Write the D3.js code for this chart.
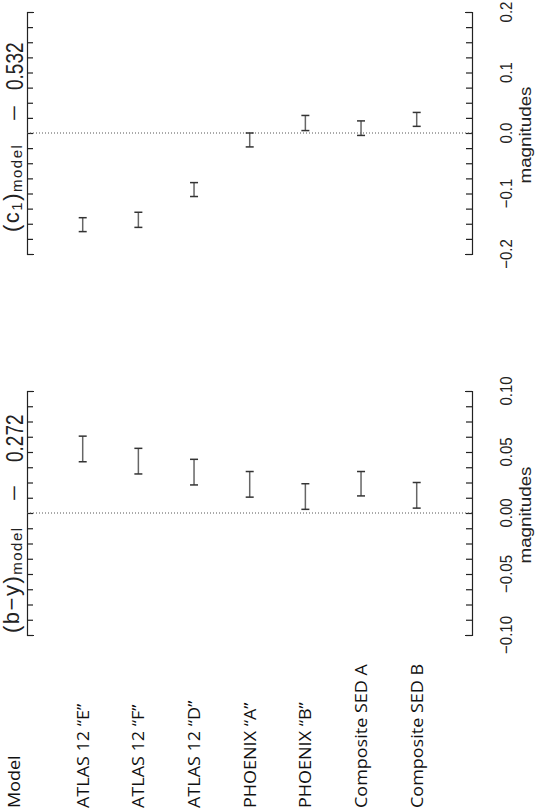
<!DOCTYPE html>
<html>
<head>
<meta charset="utf-8">
<script src="https://cdn.jsdelivr.net/npm/d3@7"></script>
<style>
  body { margin: 0; background: #fff; }
</style>
</head>
<body>
<svg id="chart" width="539" height="812"></svg>
<script>
var models = ['ATLAS 12 \u201CE\u201D', 'ATLAS 12 \u201CF\u201D', 'ATLAS 12 \u201CD\u201D', 'PHOENIX \u201CA\u201D', 'PHOENIX \u201CB\u201D', 'Composite SED A', 'Composite SED B'];
// (c1) - 0.532, lower / upper end of each error bar
var c1Low = [-0.163, -0.156, -0.105, -0.023, 0.004, -0.004, 0.011];
var c1High = [-0.140, -0.131, -0.082, 0.000, 0.029, 0.020, 0.034];
// (b-y) - 0.272
var byLow = [0.042, 0.032, 0.023, 0.013, 0.003, 0.014, 0.004];
var byHigh = [0.063, 0.053, 0.044, 0.034, 0.024, 0.034, 0.025];
var c1Ticks = [-0.2, -0.1, 0.0, 0.1, 0.2];
var c1TickLabels = ['\u22120.2', '\u22120.1', '0.0', '0.1', '0.2'];
var byTicks = [-0.10, -0.05, 0.00, 0.05, 0.10];
var byTickLabels = ['\u22120.10', '\u22120.05', '0.00', '0.05', '0.10'];

var svg = d3.select('#chart');
var axisLeftX = 27, axisRightX = 472;
var idlFont = 'Liberation Sans, Arial, sans-serif';

var x = d3.scalePoint().domain(models).range([82.7, 416.7]);

function drawPanel(top, bottom, domain, minorStep, ticks, tickLabels, lows, highs, title) {
  var y = d3.scaleLinear().domain(domain).range([bottom, top]);
  var minor = d3.range(Math.round((domain[1] - domain[0]) / minorStep) + 1).map(i => domain[0] + i * minorStep);

  svg.append('g')
     .attr('transform', `translate(${axisLeftX},0)`)
     .call(d3.axisRight(y).tickValues(minor).tickSize(6).tickSizeOuter(7).tickFormat(''))
     .call(g => g.selectAll('path,line').attr('stroke', '#222').attr('stroke-width', 1.2));

  svg.append('g')
     .attr('transform', `translate(${axisRightX},0)`)
     .call(d3.axisLeft(y).tickValues(minor).tickSize(6).tickSizeOuter(7).tickFormat(''))
     .call(g => g.selectAll('path,line').attr('stroke', '#222').attr('stroke-width', 1.2));

  // zero line
  svg.append('line')
     .attr('x1', axisLeftX).attr('x2', axisRightX)
     .attr('y1', y(0)).attr('y2', y(0))
     .attr('stroke', '#555').attr('stroke-width', 1)
     .attr('stroke-dasharray', '1,2');

  // tick labels on the right
  ticks.forEach(function(t, i) {
    svg.append('text')
       .attr('transform', `translate(506,${y(t)}) rotate(-90) scale(1,1.15)`)
       .attr('text-anchor', 'middle')
       .attr('dy', '0.36em')
       .attr('font-family', idlFont)
       .attr('font-size', 15)
       .attr('fill', '#222')
       .text(tickLabels[i]);
  });

  svg.append('text')
     .attr('transform', `translate(531,${(top + bottom) / 2 + 2}) rotate(-90)`)
     .attr('text-anchor', 'middle')
     .attr('font-family', idlFont)
     .attr('font-size', 16)
     .attr('textLength', 97)
     .attr('lengthAdjust', 'spacingAndGlyphs')
     .attr('fill', '#222')
     .text('magnitudes');

  // error bars
  var bars = svg.append('g').attr('stroke', '#333').attr('stroke-width', 1.5);
  models.forEach(function(m, i) {
    var cx = x(m);
    bars.append('line').attr('x1', cx).attr('x2', cx).attr('y1', y(lows[i])).attr('y2', y(highs[i])).attr('stroke', '#666');
    bars.append('line').attr('x1', cx - 4).attr('x2', cx + 4).attr('y1', y(lows[i])).attr('y2', y(lows[i]));
    bars.append('line').attr('x1', cx - 4).attr('x2', cx + 4).attr('y1', y(highs[i])).attr('y2', y(highs[i]));
  });

  // axis title, in three pieces
  var t = svg.append('text')
     .attr('transform', `translate(19,${title.anchor}) rotate(-90)`)
     .attr('font-family', idlFont)
     .attr('font-size', 22)
     .attr('letter-spacing', 1.5)
     .attr('fill', '#222');
  t.append('tspan').text(title.main);
  if (title.sub1) {
    t.append('tspan').attr('font-size', 15).attr('dy', 3).text(title.sub1);
    t.append('tspan').attr('dy', -3).text(')');
  }
  t.append('tspan').attr('font-size', 15).attr('dy', 3).text('model');

  svg.append('text')
     .attr('transform', `translate(21,${title.minusY}) rotate(-90) scale(1.4,1)`)
     .attr('text-anchor', 'middle')
     .attr('font-family', idlFont)
     .attr('font-size', 20)
     .attr('fill', '#222')
     .text('\u2212');

  svg.append('text')
     .attr('transform', `translate(23,${title.numY}) rotate(-90) scale(1,1.25)`)
     .attr('font-family', idlFont)
     .attr('font-size', 19)
     .attr('fill', '#222')
     .text(title.num);
}

drawPanel(12, 254, [-0.2, 0.2], 0.025, c1Ticks, c1TickLabels, c1Low, c1High,
          { anchor: 232, main: '(c', sub1: '1', num: '0.532', minusY: 113, numY: 90 });
drawPanel(391, 635, [-0.1, 0.1], 0.0125, byTicks, byTickLabels, byLow, byHigh,
          { anchor: 633, main: '(b\u2212y)', sub1: null, num: '0.272', minusY: 493, numY: 462 });

// model labels
var labels = svg.append('g')
  .attr('font-family', 'Open Sans, sans-serif')
  .attr('font-size', 18)
  .attr('fill', '#111');
labels.append('text')
  .attr('transform', 'translate(14,808) rotate(-90) scale(1,0.9)')
  .attr('dy', '0.36em')
  .text('Model');
models.forEach(function(m) {
  labels.append('text')
    .attr('transform', `translate(${x(m)},808) rotate(-90) scale(1,0.9)`)
    .attr('dy', '0.36em')
    .text(m);
});
</script>
</body>
</html>
